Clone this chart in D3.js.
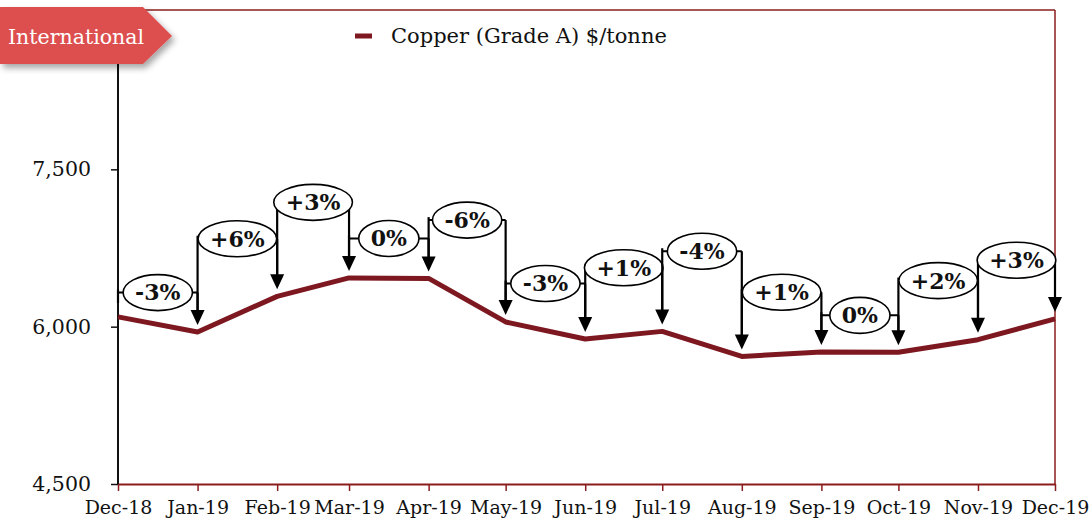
<!DOCTYPE html>
<html>
<head>
<meta charset="utf-8">
<script src="https://cdn.jsdelivr.net/npm/d3@7"></script>
<style>
  body { margin: 0; background: #fff; }
  text { font-family: "DejaVu Serif", Georgia, serif; }
</style>
</head>
<body>
<svg class="chart" width="1089" height="525"></svg>
<script>
const months = ["Dec-18", "Jan-19", "Feb-19", "Mar-19", "Apr-19", "May-19", "Jun-19",
  "Jul-19", "Aug-19", "Sep-19", "Oct-19", "Nov-19", "Dec-19"]
const copper = [6093, 5949, 6289, 6465, 6460, 6045, 5882, 5955, 5716, 5758, 5756, 5876, 6074]
const changeLabels = ["-3%", "+6%", "+3%", "0%", "-6%", "-3%", "+1%", "-4%", "+1%", "0%", "+2%", "+3%"]
// level (in $/tonne) where each change bubble sits
const bubbleLevel = [6325, 6838, 7185, 6841, 7016, 6411, 6561, 6719, 6328, 6108, 6439, 6633]
const yTicks = [4500, 6000, 7500]
const seriesName = "Copper (Grade A) $/tonne"
const badge = "International"

const parseMonth = d3.timeParse("%b-%y")
const dates = months.map(m => parseMonth(m))

const svg = d3.select("svg.chart")
const lineRed = "#7e1820"
const axisRed = "#8b1c1c"

const x = d3.scaleTime()
  .domain([dates[0], dates[dates.length - 1]])
  .range([118, 1055])

const y = d3.scaleLinear()
  .domain([4500, 9000])
  .range([484, 12])

// frame
svg.append("line")
  .attr("x1", 118).attr("x2", 1055)
  .attr("y1", 10).attr("y2", 10)
  .attr("stroke", axisRed).attr("stroke-width", 1.5)
svg.append("line")
  .attr("x1", 1055).attr("x2", 1055)
  .attr("y1", 10).attr("y2", 484)
  .attr("stroke", axisRed).attr("stroke-width", 1.5)

// x axis
const xAxis = svg.append("g")
  .attr("transform", "translate(0,484)")
  .call(d3.axisBottom(x)
    .tickValues(dates)
    .tickFormat(d3.timeFormat("%b-%y"))
    .tickSizeInner(7)
    .tickSizeOuter(0)
    .tickPadding(10))
xAxis.select(".domain").attr("stroke", axisRed).attr("stroke-width", 2)
xAxis.selectAll(".tick line").attr("stroke", axisRed).attr("stroke-width", 1.5)
xAxis.selectAll(".tick text")
  .attr("fill", "#111")
  .style("font-size", "19px")
  .style("font-family", "'DejaVu Serif', serif")

// y axis
const yAxis = svg.append("g")
  .attr("transform", "translate(118,0)")
  .call(d3.axisLeft(y)
    .tickValues(yTicks)
    .tickFormat(d3.format(","))
    .tickSizeInner(7)
    .tickSizeOuter(0)
    .tickPadding(20))
yAxis.select(".domain").attr("stroke", "#111").attr("stroke-width", 2)
  .attr("d", `M0,${y(9000) - 2}V${y(4500)}`)
yAxis.selectAll(".tick line").attr("stroke", "#111").attr("stroke-width", 1.5)
yAxis.selectAll(".tick text")
  .attr("fill", "#111")
  .style("font-size", "20.5px")
  .style("font-family", "'DejaVu Serif', serif")

// price line
svg.append("path")
  .datum(copper)
  .attr("fill", "none")
  .attr("stroke", lineRed)
  .attr("stroke-width", 5)
  .attr("stroke-linejoin", "round")
  .attr("d", d3.line()
    .x((d, i) => x(dates[i]))
    .y(d => y(d)))

// change brackets
const steps = changeLabels.map((label, i) => ({
  label: label,
  x0: x(dates[i]),
  x1: x(dates[i + 1]),
  yA: y(copper[i]),
  yB: y(copper[i + 1]),
  yb: y(bubbleLevel[i])
}))

const brackets = svg.append("g")
  .selectAll("g")
  .data(steps)
  .enter()
  .append("g")

// left leg (no arrow)
brackets.append("line")
  .attr("x1", d => d.x0).attr("x2", d => d.x0)
  .attr("y1", d => d.yb - 3)
  .attr("y2", d => d.yA - 14)
  .attr("stroke", "#000").attr("stroke-width", 2.2)

// horizontal bar
brackets.append("line")
  .attr("x1", d => d.x0).attr("x2", d => d.x1)
  .attr("y1", d => d.yb).attr("y2", d => d.yb)
  .attr("stroke", "#000").attr("stroke-width", 2)

// right leg with arrow
brackets.append("line")
  .attr("x1", d => d.x1).attr("x2", d => d.x1)
  .attr("y1", d => d.yb)
  .attr("y2", d => d.yB - 20)
  .attr("stroke", "#000").attr("stroke-width", 2.2)

brackets.append("path")
  .attr("d", d => {
    const tip = d.yB - 7
    return `M${d.x1 - 7},${tip - 15}L${d.x1 + 7},${tip - 15}L${d.x1},${tip}Z`
  })
  .attr("fill", "#000")

const bubbles = brackets.append("g")
  .attr("transform", d => `translate(${(d.x0 + d.x1) / 2},${d.yb})`)

bubbles.append("ellipse")
  .attr("fill", "#fff")
  .attr("stroke", "#000")
  .attr("stroke-width", 1.6)
  .attr("ry", 18)

bubbles.append("text")
  .attr("text-anchor", "middle")
  .attr("dy", "0.36em")
  .style("font-size", "22px")
  .style("font-weight", "bold")
  .attr("fill", "#111")
  .text(d => d.label)

bubbles.each(function () {
  const g = d3.select(this)
  const w = g.select("text").node().getComputedTextLength()
  g.select("ellipse").attr("rx", (w + 24) / 2)
})

// legend
svg.append("line")
  .attr("x1", 355).attr("x2", 372)
  .attr("y1", 36).attr("y2", 36)
  .attr("stroke", lineRed).attr("stroke-width", 5)
svg.append("text")
  .attr("x", 391).attr("y", 43)
  .style("font-size", "21px")
  .attr("fill", "#111")
  .text(seriesName)

// badge
const defs = svg.append("defs")
const shadow = defs.append("filter").attr("id", "shadow")
  .attr("x", "-10%").attr("y", "-20%").attr("width", "130%").attr("height", "160%")
shadow.append("feDropShadow")
  .attr("dx", 3).attr("dy", 4).attr("stdDeviation", 3)
  .attr("flood-color", "#000").attr("flood-opacity", 0.35)

svg.append("path")
  .attr("d", "M0,7L143,7L172,36L143,64L0,64Z")
  .attr("fill", "#dd5050")
  .attr("filter", "url(#shadow)")
svg.append("text")
  .attr("x", 8).attr("y", 44)
  .style("font-size", "20.5px")
  .attr("fill", "#fff")
  .text(badge)
</script>
</body>
</html>
